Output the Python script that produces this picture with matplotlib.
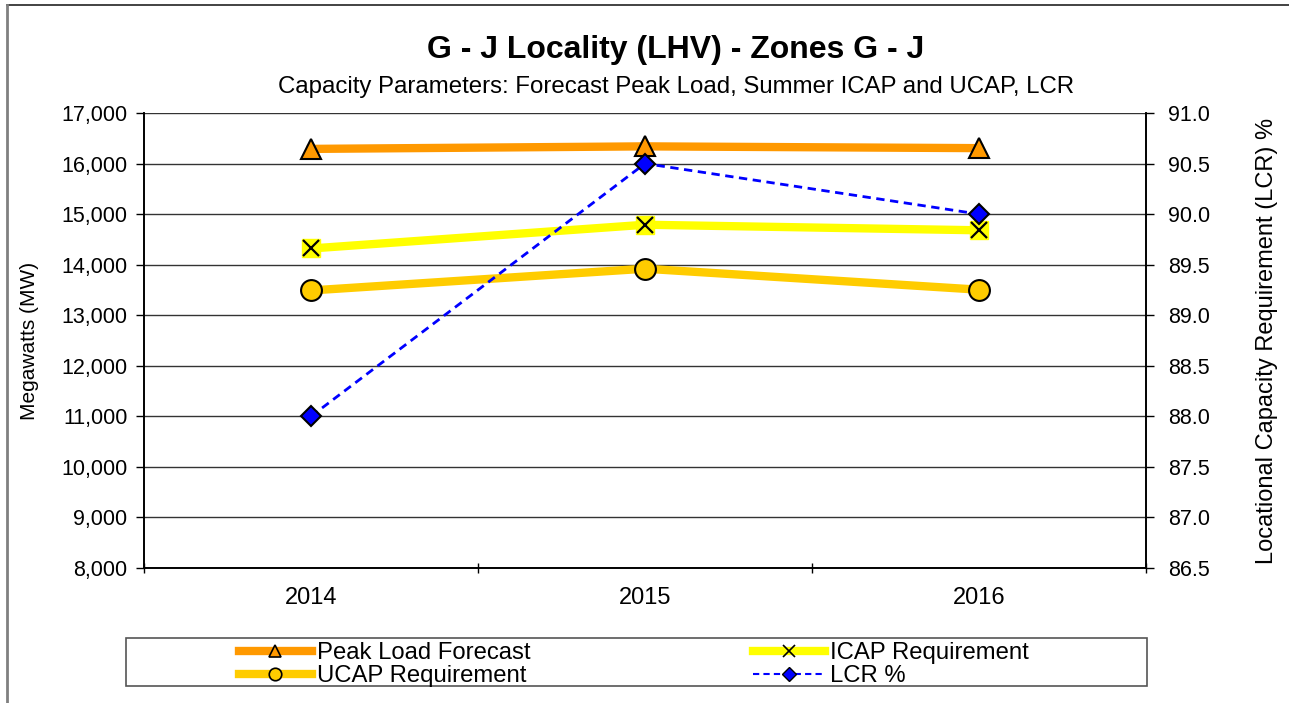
import numpy as np
import matplotlib.pyplot as plt
from matplotlib.lines import Line2D
from matplotlib.patches import Rectangle
from matplotlib.ticker import FuncFormatter, MultipleLocator

plt.rcParams['font.family'] = ['Liberation Sans', 'DejaVu Sans']

# datos
years = ['2014', '2015', '2016']
peak_load = [16290, 16340, 16305]
icap_req = [14320, 14790, 14680]
ucap_req = [13490, 13920, 13505]
lcr_pct = [88.0, 90.5, 90.0]

x = np.arange(len(years))
W, H = 1289, 703

fig = plt.figure(figsize=(12.89, 7.03), dpi=100)
ax = fig.add_axes([144 / W, 1 - 568 / H, 1002 / W, 455 / H])
ax2 = ax.twinx()

# borde exterior (solo se ve arriba y a la izquierda)
fig.add_artist(Line2D([7 / W, 1], [1 - 5 / H, 1 - 5 / H], color='#222222', lw=1.2))
fig.add_artist(Line2D([7 / W, 7 / W], [0, 1 - 5 / H], color='#808080', lw=2))

# series en MW
ax.plot(x, peak_load, color='#FF9900', lw=6, marker='^', ms=15,
        mfc='#FF9900', mec='black', mew=1.5, zorder=3)
ax.plot(x, icap_req, color='#FFFF00', lw=6, marker='s', ms=13,
        mfc='#FFFF00', mec='#FFFF00', zorder=3)
ax.plot(x, icap_req, ls='none', marker='x', ms=12, mec='black', mew=1.6, zorder=4)
ax.plot(x, ucap_req, color='#FFCC00', lw=6, marker='o', ms=15,
        mfc='#FFCC00', mec='black', mew=1.5, zorder=3)

# LCR en eje secundario
ax2.plot(x, lcr_pct, color='#0000FF', lw=2, ls=(0, (3, 2)), marker='D', ms=10,
         mfc='#0000FF', mec='black', mew=1.5, zorder=5)

ax.set_xlim(-0.5, 2.5)
ax.set_ylim(8000, 17000)
ax.yaxis.set_major_locator(MultipleLocator(1000))
ax.yaxis.set_major_formatter(FuncFormatter(lambda v, p: f'{v:,.0f}'))
ax.set_xticks(x)
ax.set_xticklabels(years, fontsize=17)
ax.set_xticks([-0.5, 0.5, 1.5, 2.5], minor=True)
ax.tick_params(axis='x', which='major', length=0, pad=14)
ax.tick_params(axis='x', which='minor', length=7, width=1, direction='inout')
ax.tick_params(axis='y', labelsize=15.5, length=6, width=1, direction='out', pad=6)
ax.grid(axis='y', color='#333333', lw=1)
ax.set_axisbelow(True)
ax.set_ylabel('Megawatts (MW)', fontsize=15)
ax.yaxis.set_label_coords((39 - 144) / 1002, 0.5)

ax2.set_ylim(86.5, 91.0)
ax2.yaxis.set_major_locator(MultipleLocator(0.5))
ax2.yaxis.set_major_formatter(FuncFormatter(lambda v, p: f'{v:.1f}'))
ax2.tick_params(axis='y', labelsize=15.5, length=6, width=1, direction='out', pad=10)
ax2.set_ylabel('Locational Capacity Requirement (LCR) %', fontsize=17, rotation=90, va='center')
ax2.yaxis.set_label_coords((1267 - 144) / 1002, 0.5)

for a in (ax, ax2):
    a.spines['top'].set_visible(False)
    for s in ('left', 'right', 'bottom'):
        a.spines[s].set_color('black')
        a.spines[s].set_linewidth(1.2)

fig.text(676 / W, 1 - 50 / H, 'G - J Locality (LHV) - Zones G - J',
         ha='center', va='center', fontsize=23, fontweight='bold')
fig.text(676 / W, 1 - 87 / H,
         'Capacity Parameters: Forecast Peak Load, Summer ICAP and UCAP, LCR',
         ha='center', va='center', fontsize=17.3)

# leyenda: marco aparte, mas ancho que el contenido
fig.add_artist(Rectangle((126 / W, 1 - 686 / H), 1021 / W, 48 / H,
                         transform=fig.transFigure, fill=False,
                         edgecolor='#555555', lw=1.2))
h_peak = Line2D([], [], color='#FF9900', lw=6, marker='^', ms=9, mfc='#FF9900', mec='black', mew=1.2)
h_ucap = Line2D([], [], color='#FFCC00', lw=6, marker='o', ms=9, mfc='#FFCC00', mec='black', mew=1.2)
h_icap = Line2D([], [], color='#FFFF00', lw=6, marker='x', ms=9, mec='black', mew=1.2)
h_lcr = Line2D([], [], color='#0000FF', lw=1.5, ls=(0, (3, 2)), marker='D', ms=7,
               mfc='#0000FF', mec='black', mew=1)
fig.legend([h_peak, h_ucap, h_icap, h_lcr],
           ['Peak Load Forecast', 'UCAP Requirement', 'ICAP Requirement', 'LCR %'],
           ncol=2, loc='upper left', bbox_to_anchor=(239 / W, 1 - 642 / H),
           fontsize=17.2, frameon=False, handlelength=3.05,
           handletextpad=0.21, columnspacing=9.3, labelspacing=0.05,
           borderpad=0, borderaxespad=0)

fig.savefig('out.png', dpi=100)
